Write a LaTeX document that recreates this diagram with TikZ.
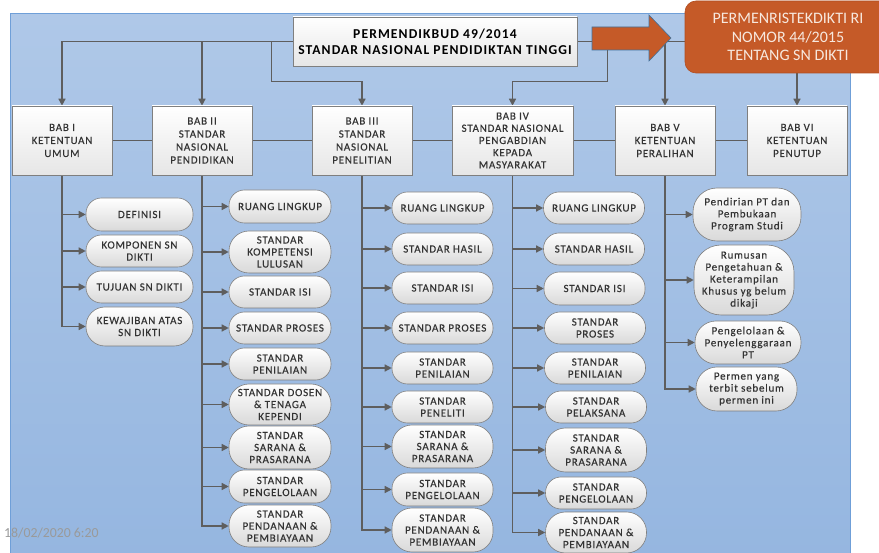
\documentclass[tikz,border=0pt]{standalone}
\usepackage{fontspec}
\setmainfont{Carlito}[LetterSpace=7,FakeBold=0.3]
\newfontfamily\plainf{Carlito}
\newfontfamily\topf{Carlito Bold}[LetterSpace=8]
\usetikzlibrary{arrows.meta,shadows,calc}
\definecolor{bgtop}{HTML}{AFC8E8}
\definecolor{bgbot}{HTML}{95B6E0}
\definecolor{bgline}{HTML}{6F9FD8}
\definecolor{lncol}{HTML}{5E5E5E}
\definecolor{bordcol}{HTML}{7F7F7F}
\definecolor{babbot}{HTML}{E6E6E6}
\definecolor{kidbot}{HTML}{D9D9D9}
\definecolor{txtcol}{HTML}{333333}
\definecolor{orng}{HTML}{C55A28}
\definecolor{orngdark}{HTML}{B04E22}
\definecolor{arrline}{HTML}{41719C}
\definecolor{orngtxt}{HTML}{F7E8DE}
\definecolor{tscol}{HTML}{9A9A9A}
\pgfdeclarelayer{bg}
\pgfdeclarelayer{lines}
\pgfsetlayers{bg,lines,main}
\tikzset{
  ln/.style={draw=lncol, line width=1.4pt},
  arr/.style={ln, -{Triangle[length=7pt,width=7pt]}},
  babbox/.style={draw=bordcol, line width=0.6pt, top color=white, bottom color=babbot,
    minimum width=100pt, minimum height=69pt, inner sep=1pt, align=center, text=txtcol,
    font=\fontsize{11}{13}\selectfont,
    drop shadow={shadow xshift=1.2pt, shadow yshift=-1.2pt, opacity=0.3}},
  kid/.style={draw=bordcol, line width=0.6pt, top color=white, bottom color=kidbot,
    rounded corners=15.5pt, inner sep=1pt, align=center, text=txtcol,
    font=\fontsize{11}{12}\selectfont},
}
\begin{document}
\begin{tikzpicture}[x=1pt,y=-1pt]
\useasboundingbox (0,0) rectangle (879,553);
\clip (0,0) rectangle (879,553);
% background
\begin{pgfonlayer}{bg}
  \fill[white] (0,0) rectangle (879,553);
  \shade[top color=bgtop, bottom color=bgbot] (10,14) rectangle (850,560);
  \draw[bgline, line width=1pt] (10,560) -- (10,14) -- (850,14) -- (850,560);
\end{pgfonlayer}

% top boxes
\node[draw=bordcol, line width=0.6pt, top color=white, bottom color=babbot,
  minimum width=284pt, minimum height=49pt, inner sep=1pt, align=center,
  font=\topf\fontsize{13.6}{16}\selectfont,
  drop shadow={shadow xshift=1.2pt, shadow yshift=-1.2pt, opacity=0.3}]
  (T) at (435,41.5) {PERMENDIKBUD 49/2014\\STANDAR NASIONAL PENDIDIKTAN TINGGI};
\node[fill=orng, draw=orngdark, line width=0.6pt, rounded corners=11pt,
  minimum width=206pt, minimum height=72pt, inner sep=1pt, align=center, text=orngtxt,
  font=\plainf\fontsize{16}{18.3}\selectfont]
  (O) at (788,37) {PERMENRISTEKDIKTI RI\\NOMOR 44/2015\\TENTANG SN DIKTI};

% BAB boxes
\node[babbox] (b1) at (62,140.5) {BAB I\\KETENTUAN\\UMUM};
\node[babbox] (b2) at (202,140.5) {BAB II\\STANDAR\\NASIONAL\\PENDIDIKAN};
\node[babbox] (b3) at (362,140.5) {BAB III\\STANDAR\\NASIONAL\\PENELITIAN};
\node[babbox, minimum width=121pt, font=\fontsize{11}{12.2}\selectfont] (b4) at (512.5,140.5) {BAB IV\\STANDAR NASIONAL\\PENGABDIAN\\KEPADA\\MASYARAKAT};
\node[babbox] (b5) at (665,140.5) {BAB V\\KETENTUAN\\PERALIHAN};
\node[babbox] (b6) at (797,140.5) {BAB VI\\KETENTUAN\\PENUTUP};

% BAB I children
\node[kid, minimum width=107pt, minimum height=33pt] (d1) at (139.5,214.5) {DEFINISI};
\node[kid, minimum width=107pt, minimum height=32pt] (d2) at (139.5,251) {KOMPONEN SN\\DIKTI};
\node[kid, minimum width=107pt, minimum height=32pt] (d3) at (139.5,287) {TUJUAN SN DIKTI};
\node[kid, minimum width=107pt, minimum height=39pt, rounded corners=19pt] (d4) at (139.5,326.5) {KEWAJIBAN ATAS\\SN DIKTI};

% BAB II children
\node[kid, minimum width=102pt, minimum height=33pt] (e1) at (280,206.5) {RUANG LINGKUP};
\node[kid, minimum width=102pt, minimum height=42pt, rounded corners=20pt] (e2) at (280,252) {STANDAR\\KOMPETENSI\\LULUSAN};
\node[kid, minimum width=102pt, minimum height=32pt] (e3) at (280,292) {STANDAR ISI};
\node[kid, minimum width=102pt, minimum height=32pt] (e4) at (280,328) {STANDAR PROSES};
\node[kid, minimum width=102pt, minimum height=32pt] (e5) at (280,364) {STANDAR\\PENILAIAN};
\node[kid, minimum width=102pt, minimum height=41pt, rounded corners=20pt] (e6) at (280,404.5) {STANDAR DOSEN\\\& TENAGA\\KEPENDI};
\node[kid, minimum width=102pt, minimum height=43pt, rounded corners=20pt] (e7) at (280,447.5) {STANDAR\\SARANA \&\\PRASARANA};
\node[kid, minimum width=102pt, minimum height=33pt] (e8) at (280,486.5) {STANDAR\\PENGELOLAAN};
\node[kid, minimum width=102pt, minimum height=42pt, rounded corners=20pt] (e9) at (280,526) {STANDAR\\PENDANAAN \&\\PEMBIAYAAN};

% BAB III children
\node[kid, minimum width=101pt, minimum height=32pt] (f1) at (442.5,208) {RUANG LINGKUP};
\node[kid, minimum width=101pt, minimum height=32pt] (f2) at (442.5,249) {STANDAR HASIL};
\node[kid, minimum width=101pt, minimum height=32pt] (f3) at (442.5,288) {STANDAR ISI};
\node[kid, minimum width=101pt, minimum height=32pt] (f4) at (442.5,328) {STANDAR PROSES};
\node[kid, minimum width=101pt, minimum height=32pt] (f5) at (442.5,368) {STANDAR\\PENILAIAN};
\node[kid, minimum width=101pt, minimum height=32pt] (f6) at (442.5,407) {STANDAR\\PENELITI};
\node[kid, minimum width=101pt, minimum height=43pt, rounded corners=20pt] (f7) at (442.5,446.5) {STANDAR\\SARANA \&\\PRASARANA};
\node[kid, minimum width=101pt, minimum height=33pt] (f8) at (442.5,489.5) {STANDAR\\PENGELOLAAN};
\node[kid, minimum width=101pt, minimum height=44pt, rounded corners=20pt] (f9) at (442.5,530) {STANDAR\\PENDANAAN \&\\PEMBIAYAAN};

% BAB IV children
\node[kid, minimum width=101pt, minimum height=32pt] (g1) at (594,208) {RUANG LINGKUP};
\node[kid, minimum width=101pt, minimum height=32pt] (g2) at (594,249) {STANDAR HASIL};
\node[kid, minimum width=101pt, minimum height=33pt] (g3) at (594.5,288.5) {STANDAR ISI};
\node[kid, minimum width=101pt, minimum height=32pt] (g4) at (595,328) {STANDAR\\PROSES};
\node[kid, minimum width=101pt, minimum height=32pt] (g5) at (595,368) {STANDAR\\PENILAIAN};
\node[kid, minimum width=101pt, minimum height=32pt] (g6) at (596,407) {STANDAR\\PELAKSANA};
\node[kid, minimum width=101pt, minimum height=44pt, rounded corners=20pt] (g7) at (596,450) {STANDAR\\SARANA \&\\PRASARANA};
\node[kid, minimum width=101pt, minimum height=32pt] (g8) at (596,493) {STANDAR\\PENGELOLAAN};
\node[kid, minimum width=101pt, minimum height=41pt, rounded corners=20pt] (g9) at (596,532.5) {STANDAR\\PENDANAAN \&\\PEMBIAYAAN};

% BAB V children
\node[kid, minimum width=108pt, minimum height=53pt, rounded corners=24pt] (h1) at (747,214.5) {Pendirian PT dan\\Pembukaan\\Program Studi};
\node[kid, minimum width=100pt, minimum height=70pt, rounded corners=27pt] (h2) at (744,280) {Rumusan\\Pengetahuan \&\\Keterampilan\\Khusus yg belum\\dikaji};
\node[kid, minimum width=106pt, minimum height=43pt, rounded corners=21pt] (h3) at (748,342.5) {Pengelolaan \&\\Penyelenggaraan\\PT};
\node[kid, minimum width=101pt, minimum height=44pt, rounded corners=21pt] (h4) at (746.5,389) {Permen yang\\terbit sebelum\\permen ini};

% big arrow
\fill[orng, draw=arrline, line width=0.6pt] (592,27) -- (649,27) -- (649,15) -- (671,38) -- (649,61) -- (649,50) -- (592,50) -- cycle;

% timestamp
\node[anchor=base west, inner sep=0pt, text=tscol, font=\plainf\fontsize{13.8}{15}\selectfont] (ts) at (4,537) {18/02/2020 6:20};

% connectors
\begin{pgfonlayer}{lines}
  \draw[arr] (T.west) -| (b1.north);
  \draw[arr] (T.west) -| (b2.north);
  \draw[arr] (T.west) -| ++(-21,40) -| (b3.north);
  \draw[ln] (T.east) -- (T.east -| O.west);
  \draw[arr] (T.east) -| ++(30,40) -| (b4.north);
  \draw[arr] (T.east) -| (b5.north);
  \draw[arr] (b6.north |- O.south) -- (b6.north);
  \draw[ln] (b1.east) -- (b6.west);
  \foreach \k in {d1,d2,d3,d4} \draw[arr] (b1.south) |- (\k.west);
  \foreach \k in {e1,e2,e3,e4,e5,e6,e7,e8,e9} \draw[arr] (b2.south) |- (\k.west);
  \foreach \k in {f1,f2,f3,f4,f5,f6,f7,f8,f9} \draw[arr] (b3.south) |- (\k.west);
  \foreach \k in {g1,g2,g3,g4,g5,g6,g7,g8,g9} \draw[arr] (b4.south) |- (\k.west);
  \foreach \k in {h1,h2,h3,h4} \draw[arr] (b5.south) |- (\k.west);
\end{pgfonlayer}
\end{tikzpicture}
\end{document}
